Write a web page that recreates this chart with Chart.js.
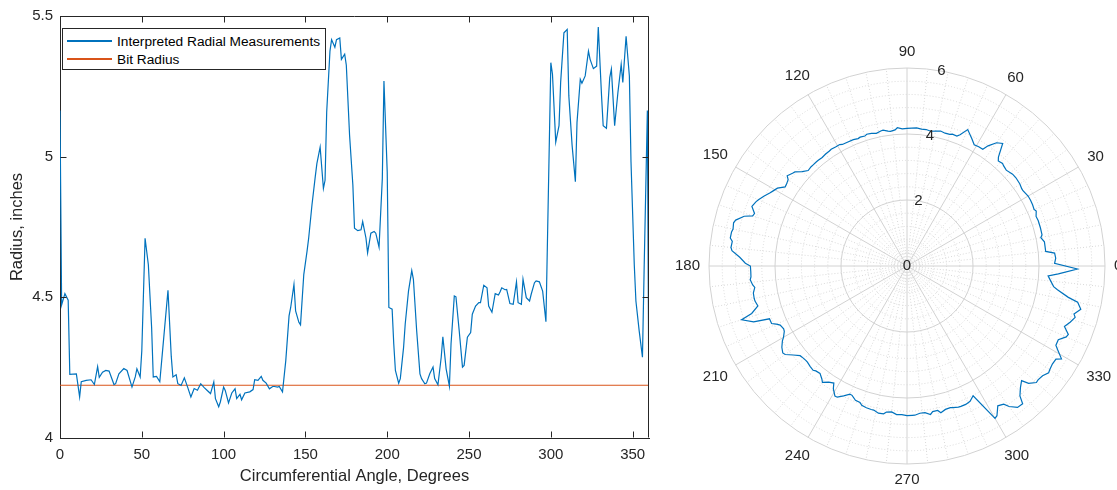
<!DOCTYPE html>
<html lang="en">
<head>
<meta charset="UTF-8">
<title>Radial measurements</title>
<script src="https://cdn.jsdelivr.net/npm/chart.js"></script>
<style>
  body { margin: 0; width: 1117px; height: 490px; overflow: hidden; background: #fff; position: relative;
         font-family: "Liberation Sans", Arial, sans-serif; }
  #lineBox { position: absolute; left: 0; top: 0; width: 660px; height: 490px; }
  #polarBox { position: absolute; left: 672px; top: 31px; width: 470px; height: 470px; }
  #legend { position: absolute; left: 62px; top: 28px; width: 262px; height: 40px;
            border: 1px solid #262626; background: #fff; font-size: 13.7px; color: #000; }
  .item { position: absolute; left: 0; height: 18px; display: flex; align-items: center; white-space: nowrap; }
  .swatch { display: block; width: 45px; height: 1.4px; margin-left: 4px; margin-right: 5px; }
</style>
</head>
<body>
<div id="lineBox"><canvas id="lineChart"></canvas></div>
<div id="legend"></div>
<div id="polarBox"><canvas id="polarChart"></canvas></div>

<script>
    // measured borehole radius (inches) at each circumferential angle (degrees)
    const angleDeg = [0, 1, 3, 5, 6, 10, 12, 13, 16, 19, 21, 23, 24, 26, 28, 30, 33, 34, 36, 39,
        41, 44, 46, 47, 49, 50, 52, 54, 56, 57, 59, 61, 63, 66, 68, 69, 71, 72, 74, 76,
        78, 80, 82, 84, 86, 88, 90, 92, 94, 95, 97, 98, 100, 101, 103, 105, 107, 108, 110, 111,
        113, 116, 118, 119, 121, 123, 124, 126, 128, 130, 131, 133, 134, 136, 138, 140, 141, 143, 144, 146,
        147, 149, 151, 152, 154, 156, 157, 159, 161, 162, 163, 165, 166, 168, 169, 171, 172, 174, 175, 177,
        179, 180, 182, 184, 185, 187, 188, 190, 192, 193, 195, 197, 198, 200, 201, 203, 204, 205, 207, 208,
        210, 211, 213, 215, 216, 218, 220, 221, 223, 224, 226, 228, 229, 231, 233, 234, 236, 238, 239, 241,
        242, 244, 246, 247, 249, 251, 252, 254, 256, 257, 259, 261, 262, 264, 266, 268, 269, 270, 272, 273,
        275, 277, 279, 280, 282, 283, 285, 287, 288, 290, 291, 293, 295, 297, 300, 301, 303, 305, 306, 308,
        310, 311, 313, 315, 316, 318, 319, 321, 323, 324, 326, 328, 329, 331, 332, 334, 336, 337, 339, 341,
        343, 344, 346, 348, 349, 351, 352, 354, 356, 357, 359, 360];
    const radiusIn = [5.164, 4.473, 4.513, 4.49, 4.226, 4.228, 4.146, 4.20, 4.205, 4.207, 4.19, 4.254, 4.216, 4.234, 4.24, 4.238, 4.19, 4.193, 4.228, 4.247,
        4.24, 4.181, 4.217, 4.246, 4.217, 4.31, 4.71, 4.616, 4.393, 4.217, 4.219, 4.20, 4.33, 4.525, 4.29, 4.217, 4.225, 4.193, 4.187, 4.214,
        4.181, 4.146, 4.176, 4.17, 4.193, 4.18, 4.169, 4.158, 4.199, 4.14, 4.111, 4.128, 4.181, 4.169, 4.125, 4.16, 4.175, 4.14, 4.155, 4.136,
        4.16, 4.164, 4.172, 4.207, 4.205, 4.219, 4.205, 4.195, 4.175, 4.183, 4.183, 4.181, 4.183, 4.164, 4.275, 4.434, 4.464, 4.546, 4.452, 4.411,
        4.402, 4.581, 4.664, 4.711, 4.828, 4.928, 4.975, 5.034, 4.887, 4.916, 5.158, 5.375, 5.416, 5.389, 5.416, 5.422, 5.346, 5.364, 5.325, 5.075,
        4.899, 4.746, 4.737, 4.74, 4.769, 4.711, 4.658, 4.728, 4.734, 4.728, 4.678, 4.922, 5.269, 4.946, 4.464, 4.458, 4.334, 4.24, 4.195, 4.211,
        4.322, 4.405, 4.522, 4.595, 4.564, 4.381, 4.228, 4.211, 4.193, 4.195, 4.228, 4.252, 4.211, 4.189, 4.287, 4.36, 4.246, 4.184, 4.334, 4.505,
        4.502, 4.381, 4.252, 4.258, 4.358, 4.375, 4.44, 4.469, 4.481, 4.481, 4.543, 4.534, 4.469, 4.447, 4.513, 4.508, 4.52, 4.534, 4.527, 4.528,
        4.478, 4.475, 4.555, 4.481, 4.475, 4.564, 4.499, 4.487, 4.511, 4.552, 4.558, 4.555, 4.522, 4.413, 5.334, 5.293, 5.052, 5.11, 5.264, 5.44,
        5.452, 5.216, 5.04, 4.911, 5.122, 5.275, 5.261, 5.287, 5.375, 5.346, 5.313, 5.322, 5.461, 5.216, 5.11, 5.101, 5.281, 5.311, 5.11, 5.228,
        5.328, 5.264, 5.428, 5.287, 4.981, 4.616, 4.487, 4.381, 4.287, 4.593, 5.164, 4.046];

    const bitRadius = 4.1875;
    const bitX = [0, 360];

    const angleTickLabels = [0, 30, 60, 90, 120, 150, 180, 210, 240, 270, 300, 330];
    const rTickLabels = [0, 2, 4, 6];

    const textColor = '#262626';
    const fontFamily = '"Liberation Sans", Arial, sans-serif';
    Chart.defaults.font.family = fontFamily;
    Chart.defaults.color = textColor;

    // box outline + inward ticks on all four sides
    const boxTicks = {
        id: 'boxTicks',
        afterDraw(chart) {
            const {ctx, chartArea: a, scales: {x, y}} = chart;
            const L = Math.round(a.left) + 0.5, R = Math.round(a.right) - 0.5;
            const T = Math.round(a.top) + 0.5, B = Math.round(a.bottom) - 0.5;
            ctx.save();
            ctx.strokeStyle = textColor;
            ctx.lineWidth = 1;
            ctx.beginPath();
            ctx.moveTo(L, T); ctx.lineTo(R, T); ctx.lineTo(R, B);
            x.ticks.forEach(t => {
                const px = Math.round(x.getPixelForValue(t.value)) + 0.5;
                ctx.moveTo(px, B); ctx.lineTo(px, B - 6);
                ctx.moveTo(px, T); ctx.lineTo(px, T + 6);
            });
            y.ticks.forEach(t => {
                const py = Math.round(y.getPixelForValue(t.value)) + 0.5;
                ctx.moveTo(L, py); ctx.lineTo(L + 6, py);
                ctx.moveTo(R, py); ctx.lineTo(R - 6, py);
            });
            ctx.stroke();
            ctx.restore();
        }
    };

    const lineChart = new Chart(document.getElementById('lineChart'), {
        type: 'line',
        data: {
            datasets: [
                {
                    label: 'Interpreted Radial Measurements',
                    data: angleDeg.map((a, i) => ({x: a, y: radiusIn[i]})),
                    borderColor: '#0072BD',
                    borderWidth: 1.2,
                    pointRadius: 0,
                    tension: 0
                },
                {
                    label: 'Bit Radius',
                    data: bitX.map(a => ({x: a, y: bitRadius})),
                    borderColor: '#D95319',
                    borderWidth: 1.2,
                    pointRadius: 0
                }
            ]
        },
        options: {
            responsive: true,
            maintainAspectRatio: false,
            animation: false,
            events: [],
            layout: { padding: { top: 13, right: 11, left: 0, bottom: 0 } },
            plugins: { legend: { display: false }, tooltip: { enabled: false } },
            scales: {
                x: {
                    type: 'linear', min: 0, max: 360,
                    ticks: { stepSize: 50, includeBounds: false, padding: 8, maxRotation: 0, font: { size: 15 } },
                    grid: { display: false, drawTicks: false },
                    border: { color: textColor },
                    title: { display: true, text: 'Circumferential Angle, Degrees', font: { size: 16.5 }, padding: { top: 0, bottom: 4 } },
                    afterFit: s => { s.height = 52; }
                },
                y: {
                    min: 4, max: 5.5,
                    ticks: { stepSize: 0.5, padding: 7, font: { size: 15 }, callback: v => String(+v.toFixed(2)) },
                    grid: { display: false, drawTicks: false },
                    border: { color: textColor },
                    title: { display: true, text: 'Radius, inches', font: { size: 16.5 }, padding: { top: 8, bottom: 0 } },
                    afterFit: s => { s.width = 60; }
                }
            }
        },
        plugins: [boxTicks]
    });

    // legend box inside the axes
    const legend = document.getElementById('legend');
    lineChart.data.datasets.forEach((ds, i) => {
        const item = document.createElement('div');
        item.className = 'item';
        item.style.top = (3 + i * 18) + 'px';
        const swatch = document.createElement('span');
        swatch.className = 'swatch';
        swatch.style.backgroundColor = ds.borderColor;
        const text = document.createElement('span');
        text.textContent = ds.label;
        item.appendChild(swatch);
        item.appendChild(text);
        legend.appendChild(item);
    });

    // polar view: categories run clockwise from the top, so list angles 90, 89, ... to get
    // counter-clockwise degrees with 0 on the right
    const polarAngles = Array.from({length: 360}, (_, i) => (450 - i) % 360);
    const byAngle = new Map();
    angleDeg.forEach((a, i) => { if (a > 0 && a < 360) byAngle.set(a, radiusIn[i]); });
    const polarRadius = polarAngles.map(a => byAngle.has(a) ? byAngle.get(a) : null);

    const isMajor = v => Math.abs(v / 2 - Math.round(v / 2)) < 1e-6;

    const polarText = {
        id: 'polarText',
        afterDraw(chart) {
            const {ctx} = chart;
            const r = chart.scales.r;
            ctx.save();
            ctx.fillStyle = textColor;
            ctx.font = '15px ' + fontFamily;
            ctx.textAlign = 'center';
            ctx.textBaseline = 'middle';
            const rAng = 80 * Math.PI / 180;
            rTickLabels.forEach(v => {
                const d = r.getDistanceFromCenterForValue(v);
                ctx.fillText(String(v), r.xCenter + d * Math.cos(rAng), r.yCenter - d * Math.sin(rAng));
            });
            angleTickLabels.forEach(a => {
                const idx = polarAngles.indexOf(a);
                const txt = String(a);
                const w = ctx.measureText(txt).width;
                const dir = r.getPointPosition(idx, 1);
                const ux = dir.x - r.xCenter, uy = dir.y - r.yCenter;
                const ext = Math.abs(ux) * w / 2 + Math.abs(uy) * 7;
                const p = r.getPointPosition(idx, r.drawingArea + 9 + ext);
                ctx.fillText(txt, p.x, p.y);
            });
            ctx.restore();
        }
    };

    new Chart(document.getElementById('polarChart'), {
        type: 'radar',
        data: {
            labels: polarAngles,
            datasets: [{
                data: polarRadius,
                borderColor: '#0072BD',
                borderWidth: 1.2,
                pointRadius: 0,
                fill: false,
                spanGaps: true,
                tension: 0
            }]
        },
        options: {
            responsive: true,
            maintainAspectRatio: false,
            animation: false,
            events: [],
            layout: { padding: 37 },
            plugins: { legend: { display: false }, tooltip: { enabled: false } },
            scales: {
                r: {
                    min: 0, max: 6, startAngle: 0,
                    ticks: { stepSize: 0.4, display: false },
                    pointLabels: { display: false },
                    grid: {
                        circular: true,
                        lineWidth: 1,
                        color: c => (c.tick && isMajor(c.tick.value)) ? '#d2d2d2' : '#d9d9d9'
                    },
                    border: {
                        dash: c => (c.tick && isMajor(c.tick.value)) ? [] : [1, 2]
                    },
                    angleLines: {
                        color: c => polarAngles[c.index] % 30 === 0 ? '#d2d2d2' : '#d9d9d9',
                        lineWidth: c => polarAngles[c.index] % 6 === 0 ? 1 : 0,
                        borderDash: c => polarAngles[c.index] % 30 === 0 ? [] : [1, 2]
                    }
                }
            }
        },
        plugins: [polarText]
    });
</script>
</body>
</html>
